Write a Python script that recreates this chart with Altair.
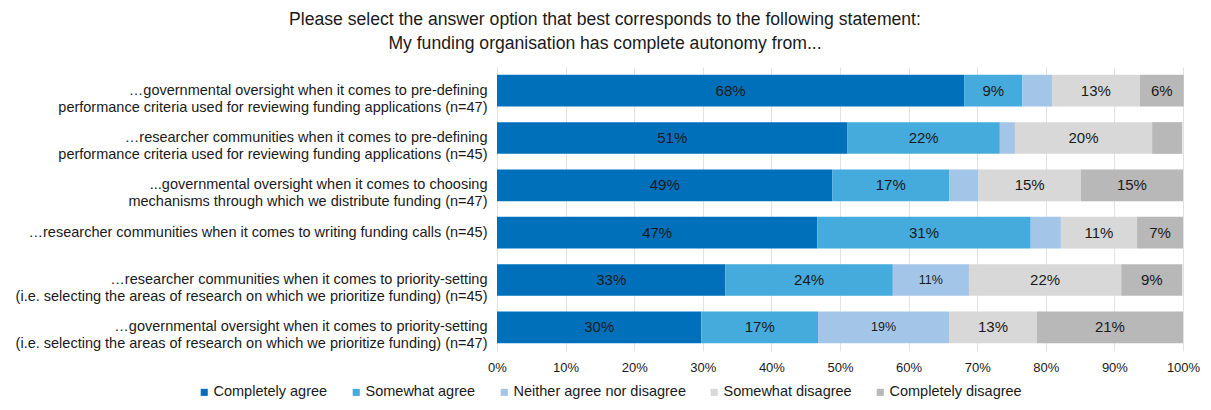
import altair as alt
import pandas as pd

categories = [
    "…governmental oversight when it comes to pre-defining|performance criteria used for reviewing funding applications (n=47)",
    "…researcher communities when it comes to pre-defining|performance criteria used for reviewing funding applications (n=45)",
    "...governmental oversight when it comes to choosing|mechanisms through which we distribute funding (n=47)",
    "…researcher communities when it comes to writing funding calls (n=45)",
    "…researcher communities when it comes to priority-setting|(i.e. selecting the areas of research on which we prioritize funding) (n=45)",
    "…governmental oversight when it comes to priority-setting|(i.e. selecting the areas of research on which we prioritize funding) (n=47)",
]
responses = [
    "Completely agree",
    "Somewhat agree",
    "Neither agree nor disagree",
    "Somewhat disagree",
    "Completely disagree",
]
completely_agree = [68.1, 51.1, 48.9, 46.7, 33.3, 29.8]
somewhat_agree = [8.5, 22.2, 17.0, 31.1, 24.4, 17.0]
neither = [4.3, 2.2, 4.3, 4.4, 11.1, 19.1]
somewhat_disagree = [12.8, 20.0, 14.9, 11.1, 22.2, 12.8]
completely_disagree = [6.4, 4.4, 14.9, 6.7, 8.9, 21.3]
x_ticks = [0, 10, 20, 30, 40, 50, 60, 70, 80, 90, 100]
colors = ["#0070BA", "#45ABDD", "#A3C6E8", "#D8D8D8", "#B8B8B8"]

series = [completely_agree, somewhat_agree, neither, somewhat_disagree, completely_disagree]
rows = []
for i, cat in enumerate(categories):
    start = 0.0
    for resp, vals in zip(responses, series):
        v = vals[i]
        rows.append({
            "category": cat,
            "response": resp,
            "value": v,
            "start": start,
            "end": start + v,
            "mid": start + v / 2,
            "label": f"{int(v + 0.5)}%" if v >= 5 else "",
        })
        start += v
df = pd.DataFrame(rows)

y_enc = alt.Y(
    "category:N",
    sort=categories,
    scale=alt.Scale(paddingInner=0.33, paddingOuter=0.165),
    axis=alt.Axis(
        title=None,
        labelExpr="split(datum.label, '|')",
        labelAlign="right",
        labelFontSize=14.5,
        labelLimit=700,
        labelPadding=10,
        labelLineHeight=17,
        labelColor="#1a1a1a",
        ticks=False,
        domain=False,
        grid=False,
    ),
)
x_scale = alt.Scale(domain=[0, 100], nice=False)

base = alt.Chart(df)

bars = base.mark_bar().encode(
    x=alt.X(
        "start:Q",
        scale=x_scale,
        axis=alt.Axis(
            title=None,
            values=x_ticks,
            labelExpr="datum.value + '%'",
            labelFlush=False,
            grid=True,
            gridColor="#E2E2E2",
            ticks=False,
            domain=False,
            labelFontSize=13,
            labelPadding=10,
            labelColor="#1a1a1a",
        ),
    ),
    x2="end:Q",
    y=y_enc,
    color=alt.Color(
        "response:N",
        sort=responses,
        scale=alt.Scale(domain=responses, range=colors),
        legend=alt.Legend(
            title=None,
            orient="none",
            legendX=-300,
            legendY=318,
            direction="horizontal",
            symbolType="square",
            symbolSize=50,
            symbolStrokeWidth=0,
            labelFontSize=14.5,
            labelLimit=400,
            labelColor="#1a1a1a",
            columnPadding=21,
            labelOffset=2,
        ),
    ),
)

text_main = base.transform_filter(
    "datum.response != 'Neither agree nor disagree'"
).mark_text(fontSize=15, color="#1a1a1a", align="center", baseline="middle").encode(
    x=alt.X("mid:Q", scale=x_scale),
    y=alt.Y("category:N", sort=categories),
    text="label:N",
)
text_small = base.transform_filter(
    "datum.response == 'Neither agree nor disagree'"
).mark_text(fontSize=12.5, color="#1a1a1a", align="center", baseline="middle").encode(
    x=alt.X("mid:Q", scale=x_scale),
    y=alt.Y("category:N", sort=categories),
    text="label:N",
)

chart = (
    alt.layer(bars, text_main, text_small)
    .properties(
        width=686,
        height=284,
        autosize=alt.AutoSizeParams(type="none"),
        padding={"left": 489, "top": 59, "right": 20, "bottom": 51},
        background="white",
        title=alt.TitleParams(
            text=[
                "Please select the answer option that best corresponds to the following statement:",
                "My funding organisation has complete autonomy from...",
            ],
            fontSize=17.6,
            fontWeight="normal",
            anchor="middle",
            frame="group",
            dx=-235,
            offset=0,
            baseline="alphabetic",
            lineHeight=24,
            color="#1a1a1a",
        ),
    )
    .configure(font="Liberation Sans")
    .configure_view(stroke=None)
)

chart.save("out.html", embed_options={"renderer": "svg", "actions": False})
